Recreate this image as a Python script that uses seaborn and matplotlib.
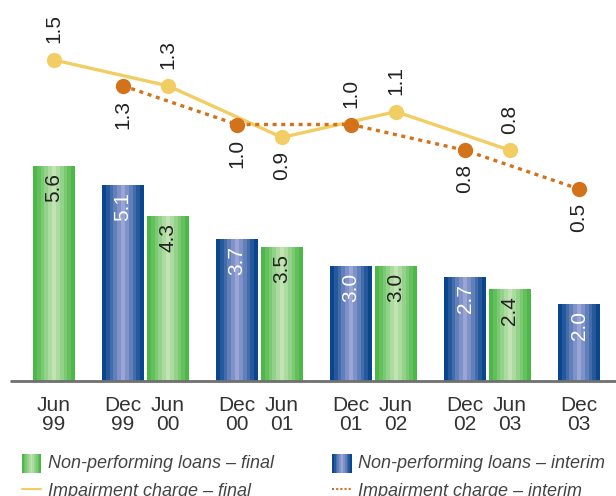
import numpy as np
import pandas as pd
import matplotlib
matplotlib.use('Agg')
import matplotlib.pyplot as plt
from matplotlib.colors import LinearSegmentedColormap
import seaborn as sns

sns.set_style('white')
plt.rcParams['font.family'] = ['Liberation Sans', 'DejaVu Sans']

# data
periods = ['Jun 99', 'Dec 99', 'Jun 00', 'Dec 00', 'Jun 01',
           'Dec 01', 'Jun 02', 'Dec 02', 'Jun 03', 'Dec 03']
npl = [5.6, 5.1, 4.3, 3.7, 3.5, 3.0, 3.0, 2.7, 2.4, 2.0]
impairment = [1.5, 1.3, 1.3, 1.0, 0.9, 1.0, 1.1, 0.8, 0.8, 0.5]
label_side = ['up', 'down', 'up', 'down', 'down', 'up', 'up', 'down', 'up', 'down']

kind = ['final' if p.startswith('Jun') else 'interim' for p in periods]
# Dec/Jun pairs sit close together, pairs spaced further apart
xpos = [9 + ((i + 1) // 2) * 114 + (45 if k == 'final' else 0) for i, k in enumerate(kind)]

df = pd.DataFrame({'period': periods, 'x': xpos, 'npl': npl,
                   'imp': impairment, 'kind': kind, 'side': label_side})

green_edge, green_mid = '#4cb848', '#c4e4b6'
blue_edge, blue_mid = '#0a468e', '#9ca6d6'
yellow = '#f2cd64'
orange = '#d2721b'

fig = plt.figure(figsize=(6.16, 4.96), dpi=100)
ax = fig.add_axes([0, (496 - 381) / 496, 1, 381 / 496])

sns.barplot(data=df, x='x', y='npl', hue='kind', native_scale=True, dodge=False,
            palette={'final': green_edge, 'interim': blue_edge}, width=42 / 45,
            linewidth=0, legend=False, ax=ax)
ax.set_xlim(0, 616)
ax.set_ylim(0, 381 / 38.4)

# striped gradient fill for the bars
def stripes(c_edge, c_mid, n=11):
    cm = LinearSegmentedColormap.from_list('g', [c_edge, c_mid, c_edge])
    return cm(np.linspace(0, 1, n))[None, :, :]

grad = {'final': stripes(green_edge, green_mid), 'interim': stripes(blue_edge, blue_mid)}
bars = [p for p in ax.patches if p.get_height() > 0]
for p in bars:
    x0, w, h = p.get_x(), p.get_width(), p.get_height()
    xc = x0 + w / 2
    row = df.iloc[int(np.argmin(np.abs(df['x'] - xc)))]
    img = ax.imshow(grad[row['kind']], extent=[x0, x0 + w, 0, h], aspect='auto',
                    interpolation='nearest', zorder=2)
    img.set_clip_path(p)
    ax.annotate(f"{row['npl']:.1f}", (xc, h), xytext=(0, -5), textcoords='offset points',
                rotation=90, ha='center', va='top', fontsize=15,
                color='white' if row['kind'] == 'interim' else '#222222', zorder=3)

ax.axhline(0, xmin=11 / 616, xmax=1, color='#707070', lw=2, zorder=4, clip_on=False)
for s in ax.spines.values():
    s.set_visible(False)
ax.set_xticks(df['x'])
ax.set_xticklabels([p.replace(' ', '\n') for p in periods], fontsize=15,
                   color='#333333', linespacing=0.95)
ax.tick_params(axis='x', length=0, pad=11)
ax.set_yticks([])
ax.set_xlabel('')
ax.set_ylabel('')

# impairment charge lines on their own scale
ax2 = ax.twinx()
ax2.set_ylim(-(381 - 253.5) / 129, 253.5 / 129)
ax2.set_xlim(0, 616)
fin = df[df['kind'] == 'final']
intr = df[df['kind'] == 'interim']
sns.lineplot(data=fin, x='x', y='imp', color=yellow, lw=2.4, marker='o',
             markersize=11, markeredgewidth=0, ax=ax2)
sns.lineplot(data=intr, x='x', y='imp', color=orange, lw=2.4, marker='o',
             markersize=11, markeredgewidth=0, linestyle=(0, (1.2, 1.4)), ax=ax2)
for _, r in df.iterrows():
    up = r['side'] == 'up'
    ax2.annotate(f"{r['imp']:.1f}", (r['x'], r['imp']), xytext=(0, 12 if up else -10),
                 textcoords='offset points', rotation=90, ha='center',
                 va='bottom' if up else 'top', fontsize=15, color='#222222')
ax2.set_yticks([])
ax2.set_xlabel('')
ax2.set_ylabel('')
for s in ax2.spines.values():
    s.set_visible(False)

# legend drawn by hand to match the two-column layout
lg_font = dict(fontsize=13, style='italic', color='#444444', va='center')
for col, (k, c_edge, c_mid, lc, ls) in enumerate([
        ('final', green_edge, green_mid, yellow, '-'),
        ('interim', blue_edge, blue_mid, orange, (0, (1, 1)))]):
    x0 = 22 if col == 0 else 332
    lax = fig.add_axes([x0 / 616, (496 - 473) / 496, 19 / 616, 19 / 496])
    lax.imshow(grad[k], aspect='auto', interpolation='nearest')
    lax.axis('off')
    fig.text((x0 + 26) / 616, 1 - 464 / 496, f'Non-performing loans \u2013 {k}', **lg_font)
    fig.lines.append(plt.Line2D([x0 / 616, (x0 + 19) / 616], [1 - 489 / 496] * 2,
                                color=lc, lw=1.5, linestyle=ls, transform=fig.transFigure))
    fig.text((x0 + 26) / 616, 1 - 491 / 496, f'Impairment charge \u2013 {k}', **lg_font)

fig.savefig('out.png', dpi=100)
